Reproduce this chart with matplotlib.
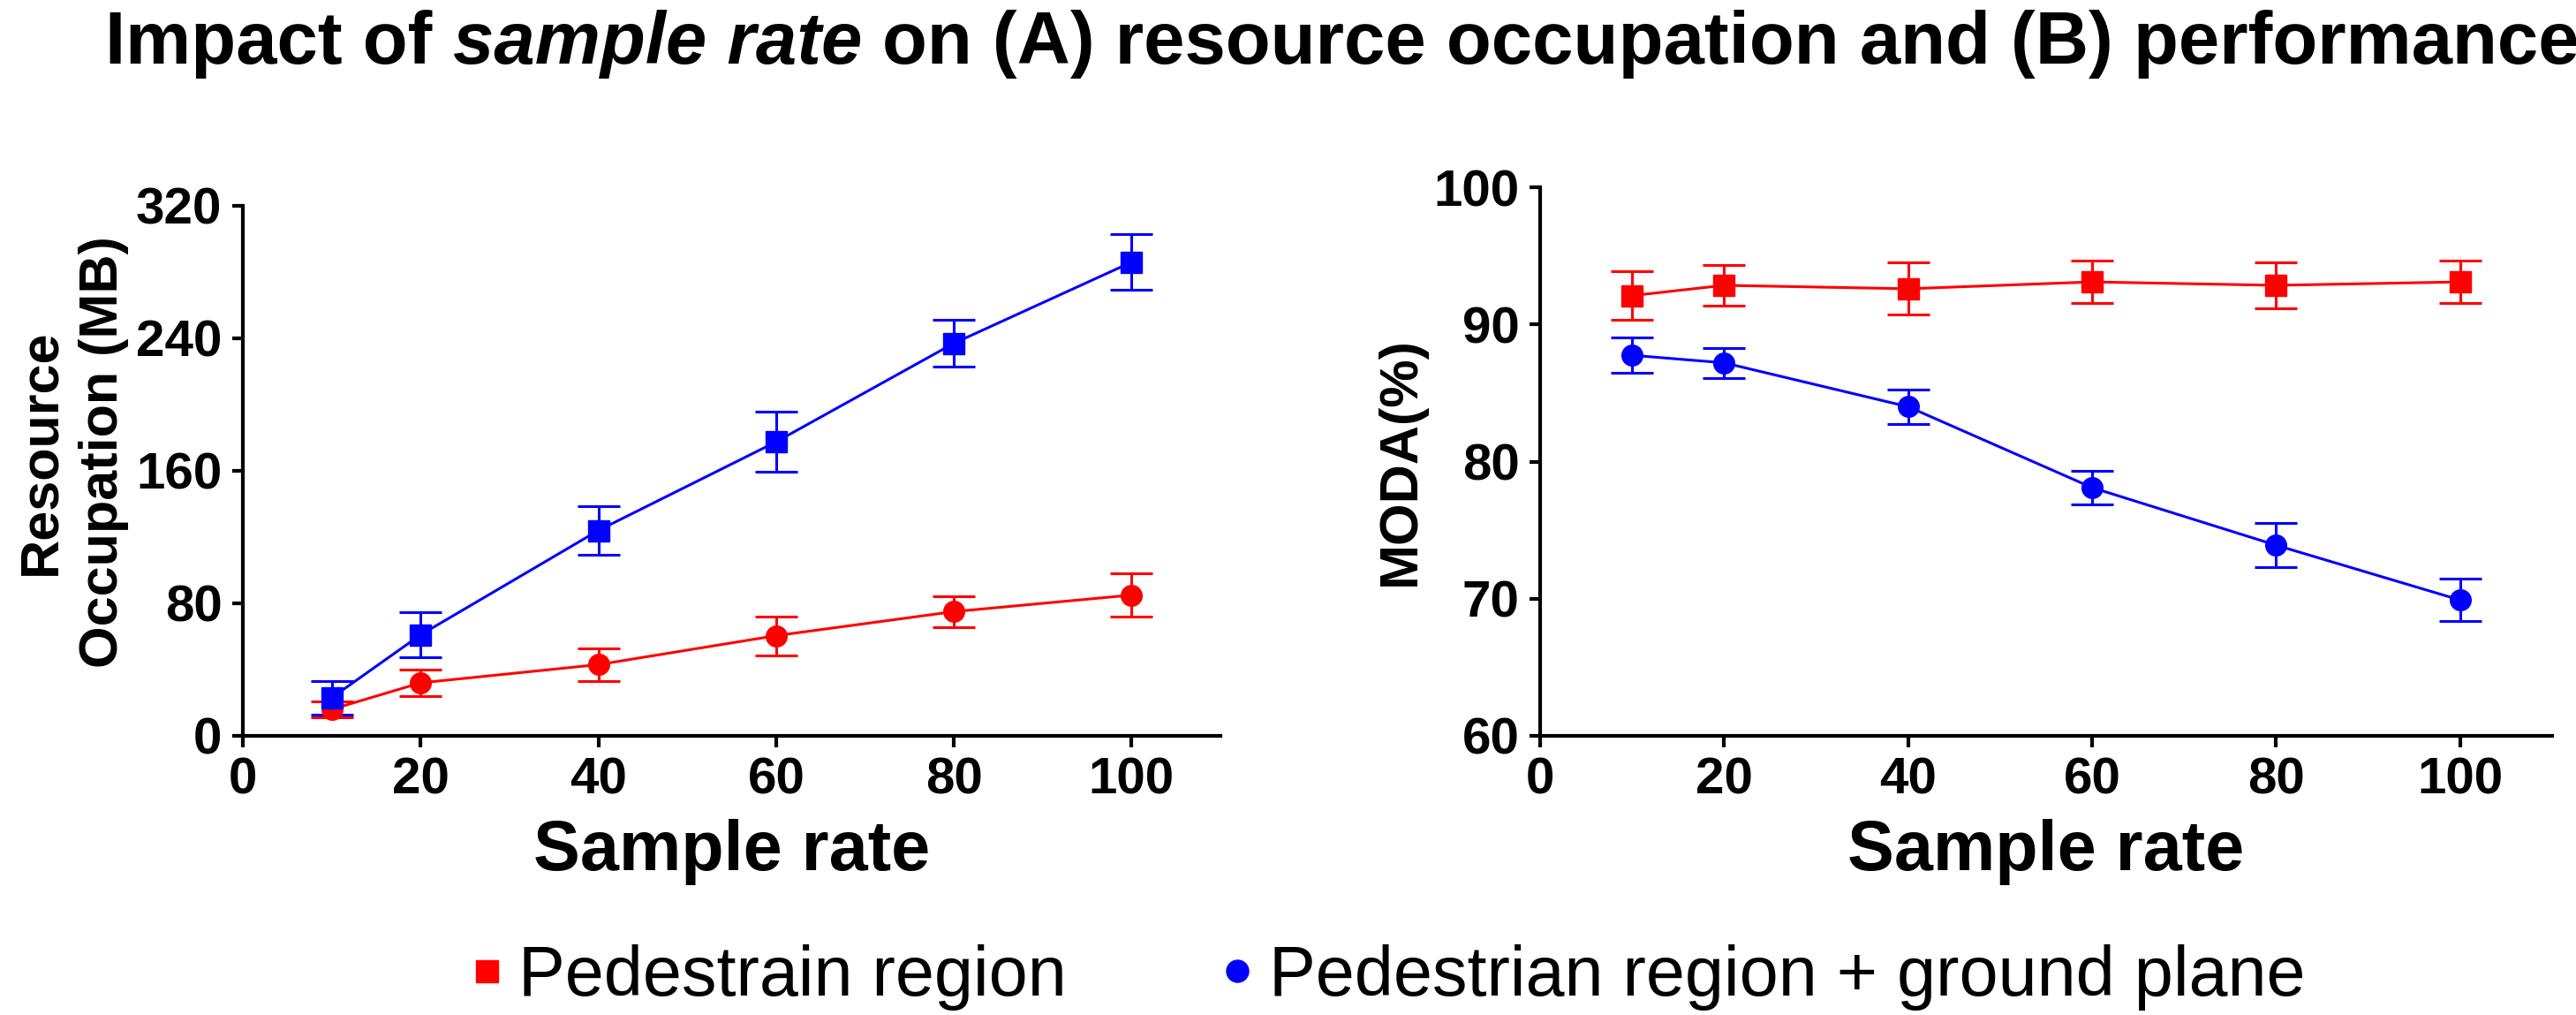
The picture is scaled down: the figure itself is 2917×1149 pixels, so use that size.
import matplotlib
matplotlib.use("Agg")
import matplotlib.pyplot as plt
from matplotlib.lines import Line2D

plt.rcParams['font.family'] = ['Liberation Sans', 'DejaVu Sans']

# ---------------- data ----------------
sample_rate = [10, 20, 40, 60, 80, 100]

# Panel A: resource occupation (MB)
res_blue = [23, 61, 124, 177.5, 237, 286]
res_blue_err = [10, 13.5, 14.6, 18, 14, 16.7]
res_red = [16, 32, 43, 60.5, 75, 85]
res_red_err = [5, 8, 10, 11.7, 9.3, 13]

# Panel B: MODA (%)
moda_red = [92.1, 92.85, 92.6, 93.1, 92.85, 93.1]
moda_red_err = [1.75, 1.5, 1.9, 1.55, 1.7, 1.55]
moda_blue = [87.75, 87.2, 84.0, 78.1, 73.9, 69.9]
moda_blue_err = [1.3, 1.1, 1.25, 1.2, 1.6, 1.55]

xticks = [0, 20, 40, 60, 80, 100]
yticks_a = [0, 80, 160, 240, 320]
yticks_b = [60, 70, 80, 90, 100]

legend_labels = ["Pedestrain region", "Pedestrian region + ground plane"]
title_parts = ["Impact of", "sample rate", "on (A) resource occupation and (B) performance"]

RED = "#FF0000"
BLUE = "#0000FF"

W, H, DPI = 2917, 1149, 100
fig = plt.figure(figsize=(W / DPI, H / DPI), dpi=DPI)

axA = fig.add_axes([275 / W, 1 - 833 / H, (1382 - 275) / W, (833 - 233) / H])
axB = fig.add_axes([1744 / W, 1 - 833 / H, (2890 - 1744) / W, (833 - 212) / H])

tick_fs = 42
label_fs = 57

ekw = dict(lw=2.2, elinewidth=2.2, capsize=17, capthick=2.2, markersize=17)

axA.errorbar(sample_rate, res_red, yerr=res_red_err, fmt='-o', color=RED, **ekw)
axA.errorbar(sample_rate, res_blue, yerr=res_blue_err, fmt='-s', color=BLUE, **ekw)
axB.errorbar(sample_rate, moda_blue, yerr=moda_blue_err, fmt='-o', color=BLUE, **ekw)
axB.errorbar(sample_rate, moda_red, yerr=moda_red_err, fmt='-s', color=RED, **ekw)

for ax, yt in ((axA, yticks_a), (axB, yticks_b)):
    ax.set_xlim(0, 110)
    ax.set_ylim(yt[0], yt[-1])
    ax.set_xticks(xticks)
    ax.set_yticks(yt)
    for s in ('top', 'right'):
        ax.spines[s].set_visible(False)
    for s in ('left', 'bottom'):
        ax.spines[s].set_linewidth(3)
    ax.tick_params(axis='both', direction='out', length=9, width=3, labelsize=tick_fs)
    ax.tick_params(axis='x', pad=8)
    ax.tick_params(axis='y', pad=8)
    for lab in ax.get_xticklabels() + ax.get_yticklabels():
        lab.set_fontweight('bold')
    ax.set_xlabel("Sample rate", fontsize=label_fs, fontweight='bold', labelpad=12)

axA.set_ylabel("Resource\nOccupation (MB)", fontsize=44, fontweight='bold',
               linespacing=1.3, labelpad=6, y=0.535)
axB.set_ylabel("MODA(%)", fontsize=44, fontweight='bold', labelpad=6)

# ---------------- title (mixed upright / italic) ----------------
title_fs = 60
sp = 0.278 * title_fs
t1 = fig.text(119 / W, 1 - 72 / H, title_parts[0], fontsize=title_fs, fontweight='bold',
              ha='left', va='baseline')
t2 = plt.annotate(title_parts[1], xy=(1, 0), xycoords=t1, xytext=(sp, 0),
                  textcoords='offset points', fontsize=title_fs, fontweight='bold',
                  style='italic', ha='left', va='bottom', annotation_clip=False)
t3 = plt.annotate(title_parts[2], xy=(1, 0), xycoords=t2, xytext=(sp, 0),
                  textcoords='offset points', fontsize=title_fs, fontweight='bold',
                  ha='left', va='bottom', annotation_clip=False)

# ---------------- legend ----------------
handles = [
    Line2D([], [], color=RED, marker='s', linestyle='none', markersize=18),
    Line2D([], [], color=BLUE, marker='o', linestyle='none', markersize=18),
]
fig.legend(handles, legend_labels, loc='center', bbox_to_anchor=(1571 / W, 1 - 1106 / H),
           ncol=2, frameon=False, fontsize=57, handlelength=0.5, handletextpad=0.2,
           columnspacing=2.2, borderpad=0, borderaxespad=0)

fig.savefig("out.png", dpi=DPI)
